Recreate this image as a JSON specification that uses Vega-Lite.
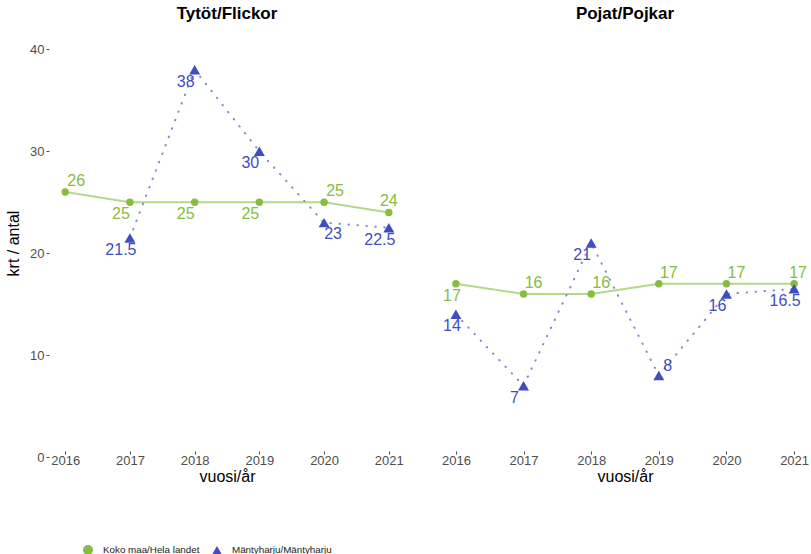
{
  "$schema": "https://vega.github.io/schema/vega-lite/v6.json",
  "padding": {"left": 5, "top": 5, "right": 0, "bottom": 0},
  "background": "white",
  "config": {
    "font": "Liberation Sans",
    "view": {"stroke": null},
    "axis": {"grid": false, "domain": false, "labelColor": "#4D4D4D", "labelFontSize": 13, "tickColor": "#4D4D4D", "tickSize": 3, "titleFontSize": 16, "titleFontWeight": "normal", "titleColor": "#000000", "labelFont": "Liberation Sans", "titleFont": "Liberation Sans"},
    "legend": {"orient": "none", "legendX": 33, "legendY": 515, "direction": "horizontal", "title": null, "labelFontSize": 9.8, "labelColor": "#1A1A1A", "labelFont": "Liberation Sans", "symbolOpacity": 1, "labelOffset": 9, "columnPadding": 9},
    "concat": {"spacing": 34}
  },
  "resolve": {"scale": {"color": "shared", "shape": "shared"}, "legend": {"color": "shared", "shape": "shared"}},
  "data": {"values": [
    {"g": "Tytöt/Flickor", "s": "Koko maa/Hela landet", "year": 2016, "v": 26},
    {"g": "Tytöt/Flickor", "s": "Koko maa/Hela landet", "year": 2017, "v": 25},
    {"g": "Tytöt/Flickor", "s": "Koko maa/Hela landet", "year": 2018, "v": 25},
    {"g": "Tytöt/Flickor", "s": "Koko maa/Hela landet", "year": 2019, "v": 25},
    {"g": "Tytöt/Flickor", "s": "Koko maa/Hela landet", "year": 2020, "v": 25},
    {"g": "Tytöt/Flickor", "s": "Koko maa/Hela landet", "year": 2021, "v": 24},
    {"g": "Tytöt/Flickor", "s": "Mäntyharju/Mäntyharju", "year": 2017, "v": 21.5},
    {"g": "Tytöt/Flickor", "s": "Mäntyharju/Mäntyharju", "year": 2018, "v": 38},
    {"g": "Tytöt/Flickor", "s": "Mäntyharju/Mäntyharju", "year": 2019, "v": 30},
    {"g": "Tytöt/Flickor", "s": "Mäntyharju/Mäntyharju", "year": 2020, "v": 23},
    {"g": "Tytöt/Flickor", "s": "Mäntyharju/Mäntyharju", "year": 2021, "v": 22.5},
    {"g": "Pojat/Pojkar", "s": "Koko maa/Hela landet", "year": 2016, "v": 17},
    {"g": "Pojat/Pojkar", "s": "Koko maa/Hela landet", "year": 2017, "v": 16},
    {"g": "Pojat/Pojkar", "s": "Koko maa/Hela landet", "year": 2018, "v": 16},
    {"g": "Pojat/Pojkar", "s": "Koko maa/Hela landet", "year": 2019, "v": 17},
    {"g": "Pojat/Pojkar", "s": "Koko maa/Hela landet", "year": 2020, "v": 17},
    {"g": "Pojat/Pojkar", "s": "Koko maa/Hela landet", "year": 2021, "v": 17},
    {"g": "Pojat/Pojkar", "s": "Mäntyharju/Mäntyharju", "year": 2016, "v": 14},
    {"g": "Pojat/Pojkar", "s": "Mäntyharju/Mäntyharju", "year": 2017, "v": 7},
    {"g": "Pojat/Pojkar", "s": "Mäntyharju/Mäntyharju", "year": 2018, "v": 21},
    {"g": "Pojat/Pojkar", "s": "Mäntyharju/Mäntyharju", "year": 2019, "v": 8},
    {"g": "Pojat/Pojkar", "s": "Mäntyharju/Mäntyharju", "year": 2020, "v": 16},
    {"g": "Pojat/Pojkar", "s": "Mäntyharju/Mäntyharju", "year": 2021, "v": 16.5}
  ]},
  "hconcat": [
    {
      "width": 356, "height": 428,
      "title": {"text": "Tytöt/Flickor", "anchor": "middle", "fontSize": 17, "fontWeight": "bold", "offset": 6, "font": "Liberation Sans", "color": "#000000"},
      "transform": [{"filter": "datum.g == 'Tytöt/Flickor'"}],
      "encoding": {
        "x": {"field": "year", "type": "quantitative", "scale": {"domain": [2015.75, 2021.25], "nice": false, "zero": false}, "axis": {"values": [2016, 2017, 2018, 2019, 2020, 2021], "format": "d", "title": "vuosi/år", "offset": -6, "labelPadding": 0, "titlePadding": 1}},
        "y": {"field": "v", "type": "quantitative", "scale": {"domain": [0, 42], "nice": false}, "axis": {"values": [0, 10, 20, 30, 40], "title": "krt / antal", "titlePadding": 8, "labelPadding": 2}}
      },
      "layer": [
        {"transform": [{"filter": "datum.s == 'Koko maa/Hela landet'"}], "mark": {"type": "line", "color": "#B3D88A", "strokeWidth": 2}},
        {"transform": [{"filter": "datum.s == 'Mäntyharju/Mäntyharju'"}], "mark": {"type": "line", "color": "#8088D8", "strokeWidth": 2, "strokeDash": [0.5, 8.5], "strokeCap": "round"}},
        {"transform": [{"filter": "datum.s == 'Koko maa/Hela landet'"}], "mark": {"type": "point", "filled": true, "opacity": 1, "size": 55},
          "encoding": {"color": {"field": "s", "type": "nominal", "scale": {"domain": ["Koko maa/Hela landet", "Mäntyharju/Mäntyharju"], "range": ["#86BC3F", "#3F4DBF"]}}, "shape": {"field": "s", "type": "nominal", "scale": {"domain": ["Koko maa/Hela landet", "Mäntyharju/Mäntyharju"], "range": ["circle", "triangle-up"]}}}},
        {"transform": [{"filter": "datum.s == 'Mäntyharju/Mäntyharju'"}], "mark": {"type": "point", "filled": true, "opacity": 1, "size": 120},
          "encoding": {"color": {"field": "s", "type": "nominal"}, "shape": {"field": "s", "type": "nominal"}}},
        {"transform": [{"filter": "datum.s == 'Koko maa/Hela landet' && (datum.year == 2016 || datum.year == 2020)"}], "mark": {"type": "text", "fontSize": 16, "dx": 11, "dy": -11},
          "encoding": {"text": {"field": "v", "type": "nominal"}, "color": {"field": "s", "type": "nominal"}}},
        {"transform": [{"filter": "(datum.s == 'Koko maa/Hela landet' && datum.year >= 2017 && datum.year <= 2019) || (datum.s == 'Mäntyharju/Mäntyharju' && datum.year != 2020)"}], "mark": {"type": "text", "fontSize": 16, "dx": -9, "dy": 12},
          "encoding": {"text": {"field": "v", "type": "nominal"}, "color": {"field": "s", "type": "nominal"}}},
        {"transform": [{"filter": "datum.s == 'Koko maa/Hela landet' && datum.year == 2021"}], "mark": {"type": "text", "fontSize": 16, "dx": 0, "dy": -11},
          "encoding": {"text": {"field": "v", "type": "nominal"}, "color": {"field": "s", "type": "nominal"}}},
        {"transform": [{"filter": "datum.s == 'Mäntyharju/Mäntyharju' && datum.year == 2020"}], "mark": {"type": "text", "fontSize": 16, "dx": 9, "dy": 11},
          "encoding": {"text": {"field": "v", "type": "nominal"}, "color": {"field": "s", "type": "nominal"}}}
      ]
    },
    {
      "width": 372, "height": 428,
      "title": {"text": "Pojat/Pojkar", "anchor": "middle", "fontSize": 17, "fontWeight": "bold", "offset": 6, "font": "Liberation Sans", "color": "#000000"},
      "transform": [{"filter": "datum.g == 'Pojat/Pojkar'"}],
      "encoding": {
        "x": {"field": "year", "type": "quantitative", "scale": {"domain": [2015.75, 2021.25], "nice": false, "zero": false}, "axis": {"values": [2016, 2017, 2018, 2019, 2020, 2021], "format": "d", "title": "vuosi/år", "offset": -6, "labelPadding": 0, "titlePadding": 1}},
        "y": {"field": "v", "type": "quantitative", "scale": {"domain": [0, 42], "nice": false}, "axis": null}
      },
      "layer": [
        {"transform": [{"filter": "datum.s == 'Koko maa/Hela landet'"}], "mark": {"type": "line", "color": "#B3D88A", "strokeWidth": 2}},
        {"transform": [{"filter": "datum.s == 'Mäntyharju/Mäntyharju'"}], "mark": {"type": "line", "color": "#8088D8", "strokeWidth": 2, "strokeDash": [0.5, 8.5], "strokeCap": "round"}},
        {"transform": [{"filter": "datum.s == 'Koko maa/Hela landet'"}], "mark": {"type": "point", "filled": true, "opacity": 1, "size": 55},
          "encoding": {"color": {"field": "s", "type": "nominal"}, "shape": {"field": "s", "type": "nominal"}}},
        {"transform": [{"filter": "datum.s == 'Mäntyharju/Mäntyharju'"}], "mark": {"type": "point", "filled": true, "opacity": 1, "size": 120},
          "encoding": {"color": {"field": "s", "type": "nominal"}, "shape": {"field": "s", "type": "nominal"}}},
        {"transform": [{"filter": "(datum.s == 'Koko maa/Hela landet' && datum.year >= 2017 && datum.year <= 2020)"}], "mark": {"type": "text", "fontSize": 16, "dx": 10, "dy": -11},
          "encoding": {"text": {"field": "v", "type": "nominal"}, "color": {"field": "s", "type": "nominal"}}},
        {"transform": [{"filter": "datum.s == 'Mäntyharju/Mäntyharju' && datum.year == 2019"}], "mark": {"type": "text", "fontSize": 16, "dx": 9, "dy": -9},
          "encoding": {"text": {"field": "v", "type": "nominal"}, "color": {"field": "s", "type": "nominal"}}},
        {"transform": [{"filter": "datum.s == 'Koko maa/Hela landet' && datum.year == 2021"}], "mark": {"type": "text", "fontSize": 16, "dx": 4, "dy": -11},
          "encoding": {"text": {"field": "v", "type": "nominal"}, "color": {"field": "s", "type": "nominal"}}},
        {"transform": [{"filter": "datum.s == 'Mäntyharju/Mäntyharju' && (datum.year == 2017 || datum.year == 2018 || datum.year == 2020 || datum.year == 2021)"}], "mark": {"type": "text", "fontSize": 16, "dx": -9, "dy": 12},
          "encoding": {"text": {"field": "v", "type": "nominal"}, "color": {"field": "s", "type": "nominal"}}},
        {"transform": [{"filter": "datum.year == 2016"}], "mark": {"type": "text", "fontSize": 16, "dx": -4, "dy": 12},
          "encoding": {"text": {"field": "v", "type": "nominal"}, "color": {"field": "s", "type": "nominal"}}}
      ]
    }
  ]
}
